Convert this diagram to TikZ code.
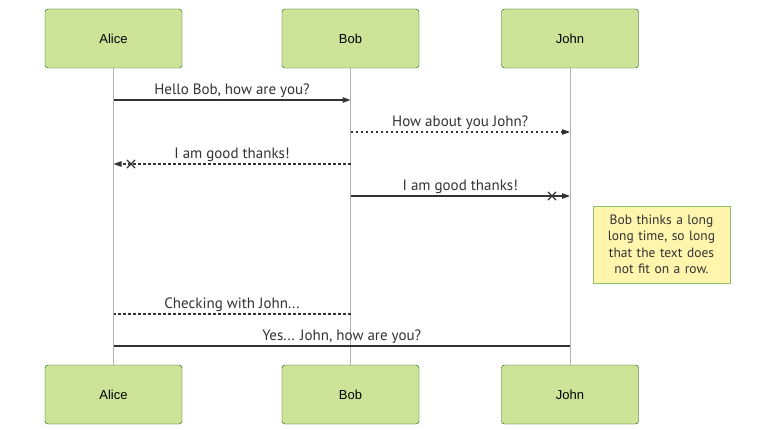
\documentclass[tikz,border=0pt]{standalone}
\usepackage{fontspec}
\setmainfont{PT Sans}
\newfontfamily\actorfont{Liberation Sans}
\usetikzlibrary{arrows.meta,shapes.misc}
\definecolor{actorbg}{HTML}{CDE498}
\definecolor{actorline}{HTML}{13540C}
\definecolor{notebg}{HTML}{FFF5AD}
\definecolor{noteline}{HTML}{8CC06A}
\definecolor{msgcol}{HTML}{333333}

\begin{document}
\begin{tikzpicture}[x=1pt,y=-1pt,
    actor/.style={draw=actorline,fill=actorbg,rounded corners=3pt,minimum width=137pt,minimum height=59pt,
        font=\actorfont\fontsize{13}{15}\selectfont},
    life/.style={draw=black!30,line width=0.6pt},
    msg/.style={draw=msgcol,line width=1.1pt},
    dots/.style={msg,dash pattern=on 2.5pt off 2.5pt},
    tip/.style={-{Triangle[length=8pt,width=5.5pt]}},
    lbl/.style={above=-1.5pt,text=msgcol,font=\fontsize{15}{17}\selectfont},
    xmark/.style={cross out,draw=msgcol,line width=1.1pt,minimum size=7pt,inner sep=0pt},
    note/.style={draw=noteline,fill=notebg,minimum width=137pt,minimum height=77pt,text width=128pt,align=center,
        text=msgcol,font=\fontsize{13.5}{16.5}\selectfont}]
    \useasboundingbox[fill=white] (0,0) rectangle (784,430);
    % participants
    \node[actor] (aT) at (113.5,38.5) {Alice};
    \node[actor] (bT) at (350.5,38.5) {Bob};
    \node[actor] (jT) at (570,38.5) {John};
    \node[actor] (aB) at (113.5,394.5) {Alice};
    \node[actor] (bB) at (350.5,394.5) {Bob};
    \node[actor] (jB) at (570,394.5) {John};
    \foreach \p in {a,b,j} {\draw[life] (\p T.south) -- (\p B.north);}
    % messages
    \draw[msg,tip] (aT |- 0,100) -- node[lbl] {Hello Bob, how are you?} (bT |- 0,100);
    \draw[dots,tip] (bT |- 0,132) -- node[lbl] {How about you John?} (jT |- 0,132);
    \draw[dots,tip] (bT |- 0,164) -- node[lbl] {I am good thanks!} (aT |- 0,164);
    \node[xmark] (x1) at (131,164) {};
    \draw[msg,tip] (bT |- 0,196) -- node[lbl] {I am good thanks!} (jT |- 0,196);
    \node[xmark] (x2) at (552,196) {};
    \node[note] (n1) at (661.5,244.5) {Bob thinks a long long time, so long that the text does not fit on a row.};
    \draw[dots] (bT |- 0,314) -- node[lbl] {Checking with John...} (aT |- 0,314);
    \draw[msg] (jT |- 0,346) -- node[lbl] {Yes... John, how are you?} (aT |- 0,346);
\end{tikzpicture}
\end{document}
